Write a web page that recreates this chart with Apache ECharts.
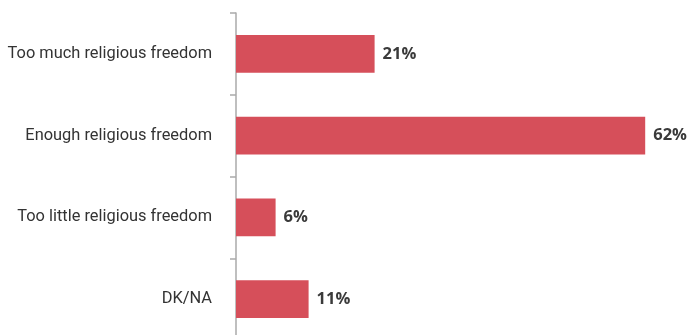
<!DOCTYPE html>
<html>
<head>
<meta charset="utf-8">
<style>
  html, body { margin: 0; padding: 0; background: #ffffff; }
  #chart { width: 688px; height: 335px; }
</style>
<script src="https://cdn.jsdelivr.net/npm/echarts@6/dist/echarts.min.js"></script>
</head>
<body>
<div id="chart"></div>
<script>
// Survey answers and their shares (percent)
const categories = [
  'Too much religious freedom',
  'Enough religious freedom',
  'Too little religious freedom',
  'DK/NA'
];
const shares = [21, 62, 6, 11];

const chart = echarts.init(document.getElementById('chart'), null, { renderer: 'canvas' });

chart.setOption({
  animation: false,
  backgroundColor: '#ffffff',
  grid: {
    left: 236, right: 23, top: 13, height: 327,
    containLabel: false,
    outerBoundsMode: 'none'
  },
  xAxis: {
    type: 'value',
    min: 0,
    max: 65,
    show: false
  },
  yAxis: {
    type: 'category',
    data: categories,
    inverse: true,
    axisLine: { show: true, lineStyle: { color: '#aaaaaa', width: 1.5 } },
    axisTick: { show: true, length: 6, lineStyle: { color: '#aaaaaa', width: 1.5 } },
    axisLabel: {
      margin: 24,
      color: '#333333',
      fontFamily: 'Roboto',
      fontSize: 16.4
    }
  },
  series: [{
    type: 'bar',
    data: shares,
    barWidth: '46%',
    itemStyle: { color: '#d64f5a' },
    label: {
      show: true,
      position: 'right',
      distance: 8,
      formatter: p => p.value + '%',
      color: '#3a3a3a',
      fontFamily: 'Open Sans',
      fontWeight: 'bold',
      fontSize: 16.5
    }
  }]
});
</script>
</body>
</html>
